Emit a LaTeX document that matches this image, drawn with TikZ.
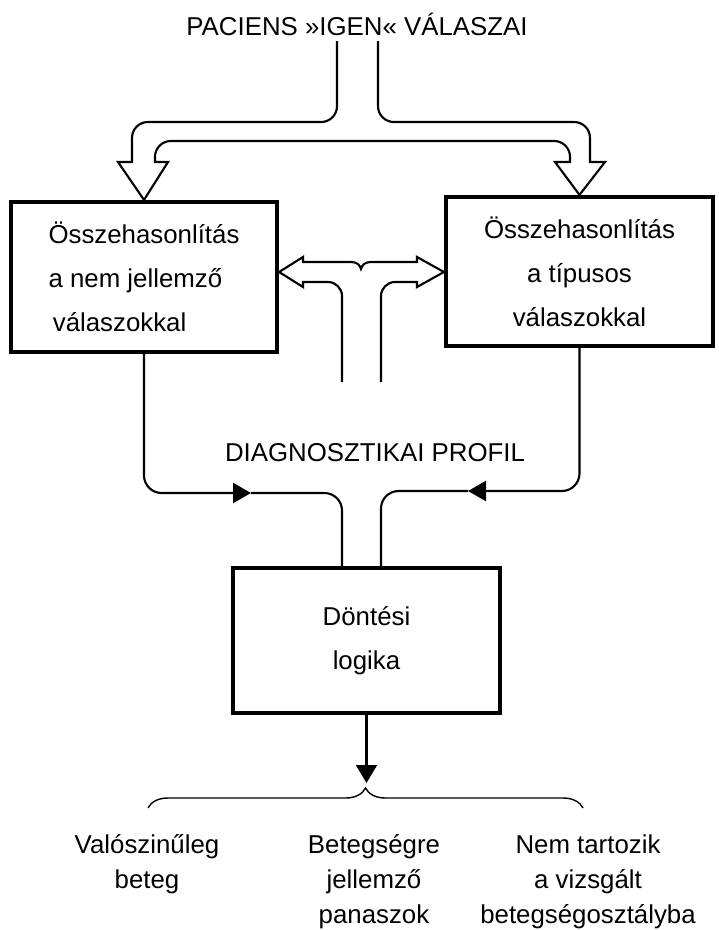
\documentclass[tikz,border=0pt]{standalone}
\usepackage{fontspec}
\setmainfont{Liberation Sans}
\usetikzlibrary{arrows.meta,calc,decorations.pathreplacing}

\begin{document}
\begin{tikzpicture}[x=0.02cm,y=-0.02cm,line width=1.2pt,inner sep=0pt]
    \tikzstyle{box}=[rectangle,draw,line width=2.4pt,align=center,font=\fontsize{14.7}{25}\selectfont]
    \tikzstyle{lbl}=[anchor=base,font=\fontsize{14.7}{17.6}\selectfont]
    \tikzstyle{outcome}=[anchor=base,align=center,font=\fontsize{14.7}{19.9}\selectfont]
    \tikzstyle{tip}=[-{Triangle[length=0.36cm,width=0.4cm]}]

    \useasboundingbox (0,0) rectangle (719,930);

    \node[lbl] (title) at (357,35) {PACIENS »IGEN« VÁLASZAI};
    \node[box,align=left,minimum width=5.32cm,minimum height=3cm] (lbox) at (144,277) {Összehasonlítás\\a nem jellemző\\\,válaszokkal};
    \node[box,minimum width=5.34cm,minimum height=2.98cm] (rbox) at (579.5,271.5) {Összehasonlítás\\a típusos\\válaszokkal};
    \node[lbl] (prof) at (375,461) {DIAGNOSZTIKAI PROFIL};
    \node[box,minimum width=5.34cm,minimum height=2.9cm] (dbox) at (366.5,640.5) {Döntési\\logika};

    \draw (337,41) [rounded corners=9] -- (337,122) -- (132,122) [sharp corners] -- (132,162) -- (118,162) -- (lbox.north) -- (168,162) -- (155,162) [rounded corners=9] -- (155,141) -- (570,141) [sharp corners] -- (570,162) -- (555,162) -- (rbox.north) -- (605,162) -- (590,162) [rounded corners=9] -- (590,122) -- (378,122) -- (378,41);

    \coordinate (mid) at (361,272);
    \draw (342,382) [rounded corners=8] -- (342,282) [sharp corners] -- (303,282) -- (303,287) -- (lbox.east |- mid) -- (303,257) -- (303,262) -- (351,262) .. controls (357,262) and (360,265) .. (361,269) .. controls (362,265) and (365,262) .. (371,262) -- (417,262) -- (417,257) -- (rbox.west |- mid) -- (417,287) -- (417,282) [rounded corners=8] -- (381,282) -- (381,382);

    \coordinate (ml) at (251,493);
    \coordinate (mr) at (468,491);
    \draw[tip,rounded corners=10] (lbox.south) |- (ml);
    \draw[rounded corners=10] (ml) -| ($(dbox.north)+(-24.5,0)$);
    \draw[tip,rounded corners=10] (rbox.south) |- (mr);
    \draw[rounded corners=10] (mr) -| ($(dbox.north)+(14.5,0)$);

    \coordinate (dtip) at (366.5,783);
    \draw[-{Triangle[length=0.36cm,width=0.42cm]}] (dbox.south) -- (dtip);

    \coordinate (bl) at (148,808);
    \coordinate (br) at (583,808);
    \draw[line width=0.8pt,decorate,decoration={brace,amplitude=0.4cm}] (bl) -- (br);

    \foreach \n/\x/\y/\t in {o1/147/888/{Valószinűleg\\beteg}, o2/374/923/{Betegségre\\jellemző\\panaszok}, o3/588/923/{Nem tartozik\\a vizsgált\\betegségosztályba}} {
        \node[outcome] (\n) at (\x,\y) {\t};
    };
\end{tikzpicture}
\end{document}
